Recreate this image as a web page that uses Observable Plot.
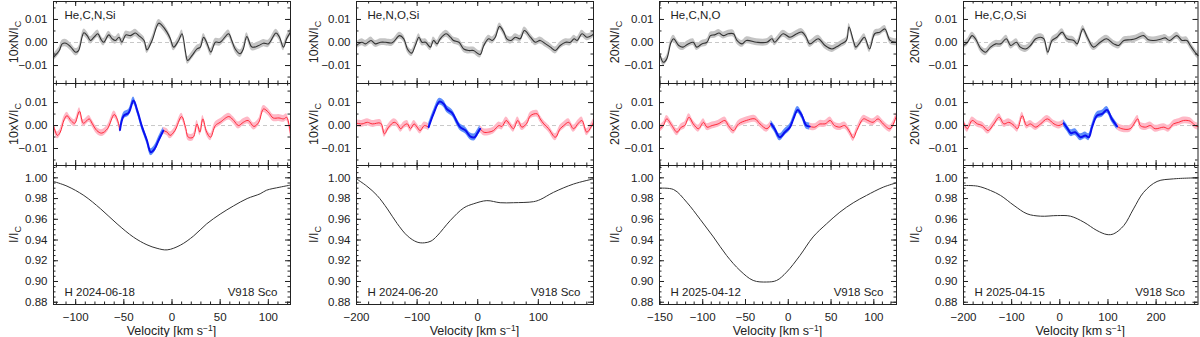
<!DOCTYPE html>
<html><head><meta charset="utf-8">
<script src="https://cdn.jsdelivr.net/npm/d3@7"></script>
<script src="https://cdn.jsdelivr.net/npm/@observablehq/plot@0.6"></script>
<style>
html,body{margin:0;padding:0;background:#fff;}
#chart{position:relative;width:1200px;height:337px;overflow:hidden;font-family:"Liberation Sans",Arial,sans-serif;}
</style></head><body><div id="chart"></div>
<script>
// ---------- data ----------
const elements = ["He,C,N,Si", "He,N,O,Si", "He,C,N,O", "He,C,O,Si"];
const dates = ["2024-06-18", "2024-06-20", "2025-04-12", "2025-04-15"];
const instrument = "H";
const star = "V918 Sco";
const scaleFactors = [10, 10, 20, 20];
const xDomains = [[-123, 123], [-200, 191], [-150.5, 126.5], [-200, 287]];
const xTickValues = [[-100, -50, 0, 50, 100], [-200, -100, 0, 100], [-150, -100, -50, 0, 50, 100], [-200, -100, 0, 100, 200]];
const xMinorStep = [10, 20, 10, 20];
const nvTickValues = [-0.01, 0, 0.01];
const iTickValues = [0.88, 0.90, 0.92, 0.94, 0.96, 0.98, 1.00];
const blueRanges = [[-54, -9], [-81, 4], [-20, 25], [8, 119]];
const nErr = [0.0016, 0.0015, 0.0015, 0.0015];
const vErr = [0.0015, 0.0015, 0.0015, 0.0015];

// Stokes N (velocity, value)
const N1 = [[-123,-0.0064],[-117,-0.0035],[-114,-0.0006],[-110,-0.0003],[-105,-0.0020],[-100,-0.0042],[-97,-0.0035],[-91.5,0.0042],[-88,0.0030],[-84.6,0.0009],[-81,0.0023],[-77,0.0038],[-74,0.0016],[-71,0.0001],[-65.6,0.0033],[-62,0.0016],[-58.7,0.0009],[-55,0.0023],[-52,0.0001],[-48,0.0033],[-43,0.0030],[-38,0.0041],[-34.5,0.0030],[-29,0.0009],[-26,-0.0032],[-20.7,0.0009],[-13.8,0.0084],[-10.4,0.0074],[-5.2,0.0045],[-1.7,0.0016],[1.7,-0.0020],[6.9,0.0009],[10.4,0.0038],[13.8,-0.0035],[16.2,-0.0078],[20.7,-0.0057],[26,-0.0028],[29.4,-0.0020],[32.8,0.0023],[36.3,-0.0003],[40.4,-0.0042],[45,0.0001],[50,0.0001],[58.7,0.0038],[62,0.0009],[65.6,-0.0028],[70.8,-0.0049],[74,-0.0028],[77.7,0.0026],[83,-0.0020],[90,-0.0013],[95,-0.0003],[100,-0.0006],[108,0.0041],[111.6,0.0023],[115.7,-0.0020],[119,0.0016],[123,0.0045]];
const N2 = [[-200,-0.0013],[-191,0.0001],[-185,-0.0006],[-176,0.0009],[-169,-0.0006],[-160,0.0001],[-152,0.0001],[-141,-0.0001],[-129,0.0030],[-122,0.0016],[-116,-0.0028],[-109,-0.0046],[-103,-0.0013],[-97,0.0023],[-92,0.0001],[-86,0.0001],[-78,-0.0020],[-73,0.0009],[-67,-0.0006],[-62,0.0016],[-52,0.0038],[-45,0.0023],[-40,0.0009],[-31,0.0001],[-23,-0.0028],[-15,-0.0035],[-7,-0.0035],[4,-0.0052],[10,-0.0013],[18,0.0016],[24,0.0009],[29,0.0023],[36,0.0070],[43,0.0045],[48,0.0016],[55,0.0009],[62,0.0023],[70,0.0016],[77,0.0052],[87,0.0023],[95,0.0001],[103,0.0009],[112,-0.0006],[120,-0.0020],[128,-0.0035],[136,-0.0013],[145,0.0001],[153,0.0001],[159,0.0016],[164,0.0009],[172,0.0038],[180,0.0023],[188,0.0030],[191,0.0038]];
const N3 = [[-150.5,-0.0046],[-146,-0.0086],[-142,-0.0071],[-137,0.0001],[-134,0.0016],[-128,-0.0013],[-123,-0.0020],[-117,-0.0006],[-111,0.0001],[-107,-0.0020],[-101,-0.0006],[-95,0.0001],[-91,0.0030],[-86,0.0033],[-81,0.0041],[-76,0.0030],[-70,0.0038],[-64,0.0038],[-60,0.0009],[-54,-0.0006],[-49,0.0009],[-37,0.0001],[-25,0.0001],[-19,0.0016],[-16,0.0001],[-6,0.0038],[2,0.0023],[10,0.0038],[16,0.0045],[21,0.0023],[25,-0.0006],[35,0.0016],[43,-0.0013],[51,-0.0028],[56,-0.0020],[62,-0.0006],[68,0.0009],[71,0.0067],[76,0.0009],[79,-0.0020],[84,0.0001],[89,0.0023],[95,-0.0028],[101,0.0038],[107,0.0045],[113,0.0059],[119,0.0009],[126.5,0.0001]];
const N4 = [[-200,-0.0013],[-192,0.0001],[-182,0.0030],[-175,0.0016],[-164,-0.0028],[-154,-0.0042],[-144,-0.0020],[-133,-0.0006],[-123,-0.0006],[-111,0.0016],[-102,-0.0013],[-90,0.0001],[-82,-0.0020],[-71,-0.0028],[-61,-0.0013],[-50,0.0016],[-40,0.0023],[-33,0.0016],[-25,-0.0042],[-16,0.0009],[-6,0.0023],[5,0.0045],[15,0.0016],[29,0.0009],[36,-0.0006],[48,0.0059],[57,0.0023],[70,-0.0020],[84,0.0001],[97,0.0016],[112,-0.0006],[122,-0.0013],[133,0.0009],[146,0.0012],[157,0.0016],[174,0.0030],[184,0.0012],[195,0.0009],[212,0.0016],[219,0.0020],[228,0.0009],[243,0.0030],[254,0.0009],[264,0.0009],[271,-0.0013],[280,-0.0040],[287,-0.0057]];

// Stokes V (velocity, value)
const V1 = [[-123,0],[-119,-0.0043],[-116,-0.0029],[-112,0.0025],[-109,0.0043],[-105,0.0022],[-101,0.0010],[-96,0.0062],[-92,0.0010],[-86,0.0029],[-83,0.0010],[-78,-0.0022],[-73,-0.0033],[-67,-0.0014],[-60,0.0048],[-57,0.0029],[-54,-0.0019],[-50,0.0043],[-45,0.0055],[-40,0.0109],[-36,0.0065],[-31,-0.0007],[-26,-0.0065],[-22,-0.0116],[-18,-0.0101],[-14,-0.0065],[-9,-0.0022],[-5,-0.0029],[-2,-0.0043],[3,-0.0022],[10,0.0039],[14,-0.0007],[17,-0.0051],[22,-0.0051],[26,0.0007],[29,-0.0029],[32,0.0029],[36,-0.0029],[40,-0.0051],[45,0],[50,0.0014],[59,0.0039],[64,0.0022],[69,0],[74,0.0014],[79,0.0022],[85,-0.0004],[90,0.0014],[95,0.0072],[100,0.0058],[105,0.0033],[111,0.0033],[116,0.0029],[119,0.0036],[123,-0.0036]];
const V2 = [[-200,0.0010],[-191,0.0007],[-182,0.0014],[-174,0.0007],[-160,0.0010],[-154,-0.0036],[-147,-0.0007],[-138,0.0014],[-133,0.0007],[-127,-0.0014],[-122,0],[-116,0.0007],[-111,-0.0014],[-105,0.0007],[-100,-0.0007],[-95,-0.0022],[-88,0],[-81,-0.0007],[-73,0.0051],[-63,0.0104],[-56,0.0094],[-51,0.0072],[-42,0.0054],[-34,0.0014],[-29,-0.0007],[-20,-0.0022],[-12,-0.0048],[-5,-0.0051],[-1,-0.0036],[4,-0.0014],[10,-0.0029],[18,-0.0029],[26,-0.0022],[35,0],[40,-0.0004],[47,0.0022],[53,0.0004],[59,-0.0014],[66,0.0022],[73,-0.0007],[81,0.0010],[87,0.0043],[98,0.0051],[103,0.0029],[109,0.0007],[117,-0.0014],[128,-0.0051],[136,-0.0014],[142,0],[150,0.0014],[158,-0.0014],[166,0.0010],[172,0.0022],[180,-0.0029],[191,0.0014]];
const V3 = [[-150.5,-0.0014],[-146,0],[-142,0.0029],[-136,0],[-130,-0.0029],[-125,-0.0007],[-121,0],[-116,0.0036],[-111,0.0007],[-105,-0.0014],[-99,0.0014],[-95,-0.0007],[-89,0],[-82,0.0007],[-74,0.0022],[-70,0],[-64,-0.0022],[-58,0.0007],[-49,0.0022],[-39,0.0029],[-33,0.0007],[-25,-0.0014],[-20,0.0007],[-16,-0.0014],[-10,-0.0051],[-4,-0.0029],[2,-0.0007],[6,0.0029],[11,0.0068],[16,0.0043],[21,0],[25,-0.0004],[31,-0.0007],[37,0.0007],[43,0.0007],[49,0.0022],[54,0],[60,-0.0007],[66,0],[72,-0.0029],[76,-0.0054],[80,-0.0022],[88,0.0029],[93,0.0022],[99,0.0014],[105,0.0029],[111,0.0007],[119,-0.0014],[126.5,0.0043]];
const V4 = [[-200,0.0014],[-192,-0.0014],[-182,0.0022],[-171,0.0007],[-161,0],[-149,-0.0022],[-137,0.0007],[-126,0.0036],[-116,0.0007],[-106,0.0014],[-95,0],[-88,-0.0014],[-78,0.0043],[-69,0],[-61,0.0007],[-50,-0.0007],[-40,0.0007],[-26,0.0029],[-12,0.0007],[-2,0],[8,0.0010],[15,-0.0010],[23,-0.0033],[32,-0.0029],[43,-0.0051],[53,-0.0043],[60,-0.0051],[67,-0.0007],[77,0.0043],[88,0.0051],[98,0.0068],[108,0.0029],[119,-0.0004],[129,-0.0014],[146,-0.0014],[162,0.0029],[167,0],[178,-0.0007],[188,0],[198,-0.0014],[216,-0.0007],[226,-0.0014],[236,0.0007],[247,0.0014],[257,0.0022],[271,0.0019],[281,0],[287,-0.0005]];

// Stokes I (velocity, I/Ic)
const I1 = [[-123,0.9965],[-109,0.992],[-91.5,0.983],[-74,0.970],[-57,0.9556],[-40,0.9428],[-26,0.9354],[-15.5,0.932],[-5,0.9305],[8.6,0.935],[22.5,0.944],[36,0.9556],[50,0.965],[64,0.973],[78,0.980],[91.5,0.9846],[98,0.988],[112,0.991],[123,0.993]];
const I2 = [[-200,0.999],[-183,0.992],[-166,0.983],[-149,0.970],[-133,0.956],[-116,0.944],[-100,0.938],[-88,0.9373],[-77,0.939],[-67,0.944],[-45,0.959],[-23,0.971],[-6.6,0.975],[15,0.978],[37,0.976],[59,0.976],[92,0.977],[103,0.979],[125,0.986],[158,0.994],[191,0.999]];
const I3 = [[-150.5,0.990],[-134,0.9887],[-118.7,0.9765],[-103,0.960],[-87.5,0.943],[-72,0.925],[-56.4,0.9106],[-41,0.901],[-25.3,0.8995],[-13.6,0.901],[-2,0.909],[13.6,0.925],[29,0.943],[44.7,0.9556],[60.3,0.9669],[75.9,0.9759],[91.4,0.983],[111,0.991],[126.5,0.9952]];
const I4 = [[-200,0.9926],[-171,0.9920],[-144,0.9878],[-123,0.983],[-95,0.9733],[-68,0.9653],[-40,0.963],[-5,0.9636],[22,0.963],[50,0.9572],[77,0.9492],[98,0.9453],[112,0.946],[133,0.954],[153,0.970],[174,0.986],[202,0.9965],[236,0.999],[287,1.000]];

const Ndata = [N1, N2, N3, N4];
const Vdata = [V1, V2, V3, V4];
const Idata = [I1, I2, I3, I4];

// ---------- layout / style ----------
const frameLeft = [53, 356, 659, 963];
const frameRight = [290, 593, 896, 1197.5];
const titleX = [18, 318, 619, 919];
const ML = 53, MR = 4;
const ink = "#222";
const font = "'Liberation Sans', Arial, Helvetica, sans-serif";
const chart = document.getElementById("chart");

function minorTicks(domain, step) {
  return d3.range(Math.ceil(domain[0] / step - 1e-9), Math.floor(domain[1] / step + 1e-9) + 1).map(k => +(k * step).toFixed(6));
}

function tickMarks(xMaj, xMin, yMaj, yMin, iw, ih) {
  const L = 5, l = 2.5;
  return [
    Plot.tickX(xMin, {x: d => d, insetTop: ih - l, stroke: ink}),
    Plot.tickX(xMin, {x: d => d, insetBottom: ih - l, stroke: ink}),
    Plot.tickX(xMaj, {x: d => d, insetTop: ih - L, stroke: ink}),
    Plot.tickX(xMaj, {x: d => d, insetBottom: ih - L, stroke: ink}),
    Plot.tickY(yMin, {y: d => d, insetRight: iw - l, stroke: ink}),
    Plot.tickY(yMin, {y: d => d, insetLeft: iw - l, stroke: ink}),
    Plot.tickY(yMaj, {y: d => d, insetRight: iw - L, stroke: ink}),
    Plot.tickY(yMaj, {y: d => d, insetLeft: iw - L, stroke: ink})
  ];
}

const f2 = d3.format(".2f");
const fInt = d3.format("d");

function subplot(c, {top, height, mt, mb, yDomain, yMaj, yMinStep, marks, withX}) {
  const fw = frameRight[c] - frameLeft[c];
  const W = ML + fw + MR;
  const ih = height - mt - mb;
  const xd = xDomains[c];
  const p = Plot.plot({
    width: W, height,
    marginLeft: ML, marginRight: MR, marginTop: mt, marginBottom: mb,
    x: {domain: xd, axis: null},
    y: {domain: yDomain, axis: null},
    style: {fontFamily: font, fontSize: "11.5px", background: "transparent", color: ink, overflow: "visible"},
    marks: [
      ...marks,
      Plot.frame({stroke: ink}),
      ...tickMarks(xTickValues[c], minorTicks(xd, xMinorStep[c]), yMaj, minorTicks(yDomain, yMinStep), fw, ih),
      Plot.axisY(yMaj, {anchor: "left", tickSize: 0, tickPadding: 6, tickFormat: f2, label: null, fill: ink}),
      ...(withX ? [Plot.axisX(xTickValues[c], {anchor: "bottom", tickSize: 0, tickPadding: 8, tickFormat: fInt, label: null, fill: ink})] : [])
    ]
  });
  p.style.position = "absolute";
  p.style.left = (frameLeft[c] - ML) + "px";
  p.style.top = top + "px";
  chart.appendChild(p);
  return p;
}

function yTitle(svg, c, yc, main) {
  const x = titleX[c] - (frameLeft[c] - ML);
  const t = d3.select(svg).append("text")
    .attr("transform", `translate(${x},${yc}) rotate(-90)`)
    .attr("text-anchor", "middle").attr("font-size", 12.5).attr("fill", ink)
    .attr("font-family", font);
  t.append("tspan").text(main);
  t.append("tspan").attr("font-size", 9).attr("dy", 3).text("C");
}

const nvDomainN = [-0.0178, 0.0178];
const nvDomainV = [-0.0174, 0.0183];
const iDomain = [0.8778, 1.0119];

for (let c = 0; c < 4; c++) {
  const f = scaleFactors[c];
  const [b0, b1] = blueRanges[c];
  const ne = nErr[c], ve = vErr[c];
  const X = d => d[0], Y = d => d[1];

  // Stokes N
  const sN = subplot(c, {
    top: 0, height: 83, mt: 1, mb: 0, yDomain: nvDomainN, yMaj: nvTickValues, yMinStep: 0.005,
    marks: [
      Plot.ruleY([0], {stroke: "#c8c8c8", strokeDasharray: "4,3"}),
      Plot.areaY(Ndata[c], {x: X, y1: d => d[1] - ne, y2: d => d[1] + ne, fill: "#c4c4c4", curve: "catmull-rom"}),
      Plot.line(Ndata[c], {x: X, y: Y, stroke: "#333", strokeWidth: 1.1, curve: "catmull-rom"}),
      Plot.text([elements[c]], {frameAnchor: "top-left", dx: 11, dy: 17, lineAnchor: "bottom", textAnchor: "start", fill: ink, fontSize: 11.5})
    ]
  });
  yTitle(sN, c, 42, `${f}xN/I`);

  // Stokes V
  const outL = d => d[0] <= b0, outR = d => d[0] >= b1, inB = d => d[0] >= b0 && d[0] <= b1;
  const sV = subplot(c, {
    top: 83, height: 83, mt: 0, mb: 1, yDomain: nvDomainV, yMaj: nvTickValues, yMinStep: 0.005,
    marks: [
      Plot.ruleY([0], {stroke: "#c8c8c8", strokeDasharray: "4,3"}),
      Plot.areaY(Vdata[c], {filter: outL, x: X, y1: d => d[1] - ve, y2: d => d[1] + ve, fill: "#ffb8c6", curve: "catmull-rom"}),
      Plot.areaY(Vdata[c], {filter: outR, x: X, y1: d => d[1] - ve, y2: d => d[1] + ve, fill: "#ffb8c6", curve: "catmull-rom"}),
      Plot.areaY(Vdata[c], {filter: inB, x: X, y1: d => d[1] - ve, y2: d => d[1] + ve, fill: "#5f8ffb", curve: "catmull-rom"}),
      Plot.line(Vdata[c], {filter: outL, x: X, y: Y, stroke: "#ff2a3a", strokeWidth: 1, curve: "catmull-rom"}),
      Plot.line(Vdata[c], {filter: outR, x: X, y: Y, stroke: "#ff2a3a", strokeWidth: 1, curve: "catmull-rom"}),
      Plot.line(Vdata[c], {filter: inB, x: X, y: Y, stroke: "#0a10f0", strokeWidth: 2, curve: "catmull-rom"})
    ]
  });
  yTitle(sV, c, 41, `${f}xV/I`);

  // Stokes I
  const sI = subplot(c, {
    top: 165, height: 172, mt: 0, mb: 33, yDomain: iDomain, yMaj: iTickValues, yMinStep: 0.005, withX: true,
    marks: [
      Plot.line(Idata[c], {x: X, y: Y, stroke: "#333", strokeWidth: 1, curve: "catmull-rom"}),
      Plot.text([`${instrument} ${dates[c]}`], {frameAnchor: "bottom-left", dx: 11, dy: -9, lineAnchor: "bottom", textAnchor: "start", fill: ink, fontSize: 11.5}),
      Plot.text([star], {frameAnchor: "bottom-right", dx: -13, dy: -9, lineAnchor: "bottom", textAnchor: "end", fill: ink, fontSize: 11.5})
    ]
  });
  yTitle(sI, c, 69.5, "I/I");
  const fw = frameRight[c] - frameLeft[c];
  const xt = d3.select(sI).append("text")
    .attr("x", ML + fw / 2).attr("y", 170)
    .attr("text-anchor", "middle").attr("font-size", 12.5).attr("fill", ink).attr("font-family", font);
  xt.append("tspan").text("Velocity [km s");
  xt.append("tspan").attr("font-size", 8.5).attr("dy", -4.5).text("−1");
  xt.append("tspan").attr("dy", 4.5).text("]");
}
</script>
</body></html>
